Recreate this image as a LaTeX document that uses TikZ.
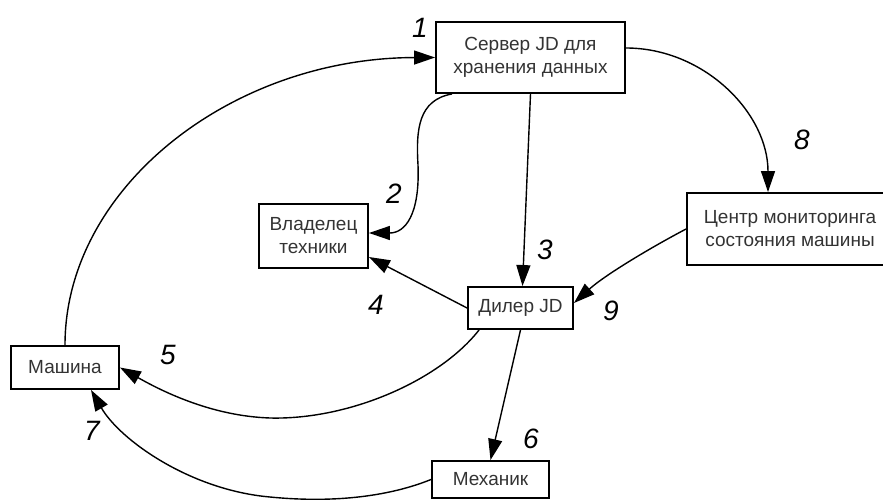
\documentclass[tikz,border=0pt]{standalone}
\usepackage{fontspec}
\setmainfont{Liberation Sans}
\usetikzlibrary{arrows.meta}
\begin{document}
\begin{tikzpicture}[x=1pt,y=-1pt,
  box/.style={draw,line width=1.9pt,inner sep=0pt,align=center,
    font=\fontsize{19}{23}\selectfont,text=black!80},
  conn/.style={line width=1.4pt,-{Triangle[length=21pt,width=14pt]}},
  num/.style={font=\fontsize{28}{28}\selectfont\itshape,inner sep=0pt}]
\useasboundingbox (0,0) rectangle (883,500);
% boxes
\node[box,minimum width=189pt,minimum height=71pt] (srv) at (530.5,57.5) {Сервер JD для\\хранения данных};
\node[box,minimum width=206pt,minimum height=72pt] (ctr) at (790,229) {Центр мониторинга\\состояния машины};
\node[box,minimum width=109pt,minimum height=64pt] (own) at (313.5,236) {Владелец\\техники};
\node[box,minimum width=105pt,minimum height=42pt] (dil) at (520.5,308) {Дилер JD};
\node[box,minimum width=108pt,minimum height=43pt] (mach) at (65,367.5) {Машина};
\node[box,minimum width=117pt,minimum height=37pt] (mech) at (490.5,479.5) {Механик};
% connectors
\draw[conn] (mach.north) .. controls (65,188) and (231,58) .. (srv.west);
\draw[conn] ([xshift=17pt]srv.south west) .. controls (418,100) and (416,130) .. (418,165)
   .. controls (420,215) and (405,233) .. ([yshift=3pt]own.east);
\draw[conn] (srv.south) -- ([xshift=2pt]dil.north);
\draw[conn] (dil.west) -- ([yshift=-21pt]own.east);
\draw[conn] ([xshift=12pt]dil.south west) .. controls (440,380) and (350,420) .. (270,418)
   .. controls (210,416) and (160,390) .. (mach.east);
\draw[conn] (dil.south) -- (mech.north);
\draw[conn] (mech.west) .. controls (380,500) and (320,502) .. (270,497)
   .. controls (190,490) and (120,440) .. ([xshift=26pt]mach.south);
\draw[conn] ([yshift=9.5pt]srv.east) .. controls (704,48) and (768,113) .. ([xshift=-22pt]ctr.north);
\draw[conn] (ctr.west) .. controls (650,248) and (605,275) .. ([yshift=5pt]dil.east);
% labels
\node[num] (n1) at (420,28) {1};
\node[num] (n2) at (394,194) {2};
\node[num] (n3) at (545,250) {3};
\node[num] (n4) at (376,305) {4};
\node[num] (n5) at (168,355) {5};
\node[num] (n6) at (531,439) {6};
\node[num] (n7) at (92,431) {7};
\node[num] (n8) at (802,140) {8};
\node[num] (n9) at (611,311) {9};
\end{tikzpicture}
\end{document}
